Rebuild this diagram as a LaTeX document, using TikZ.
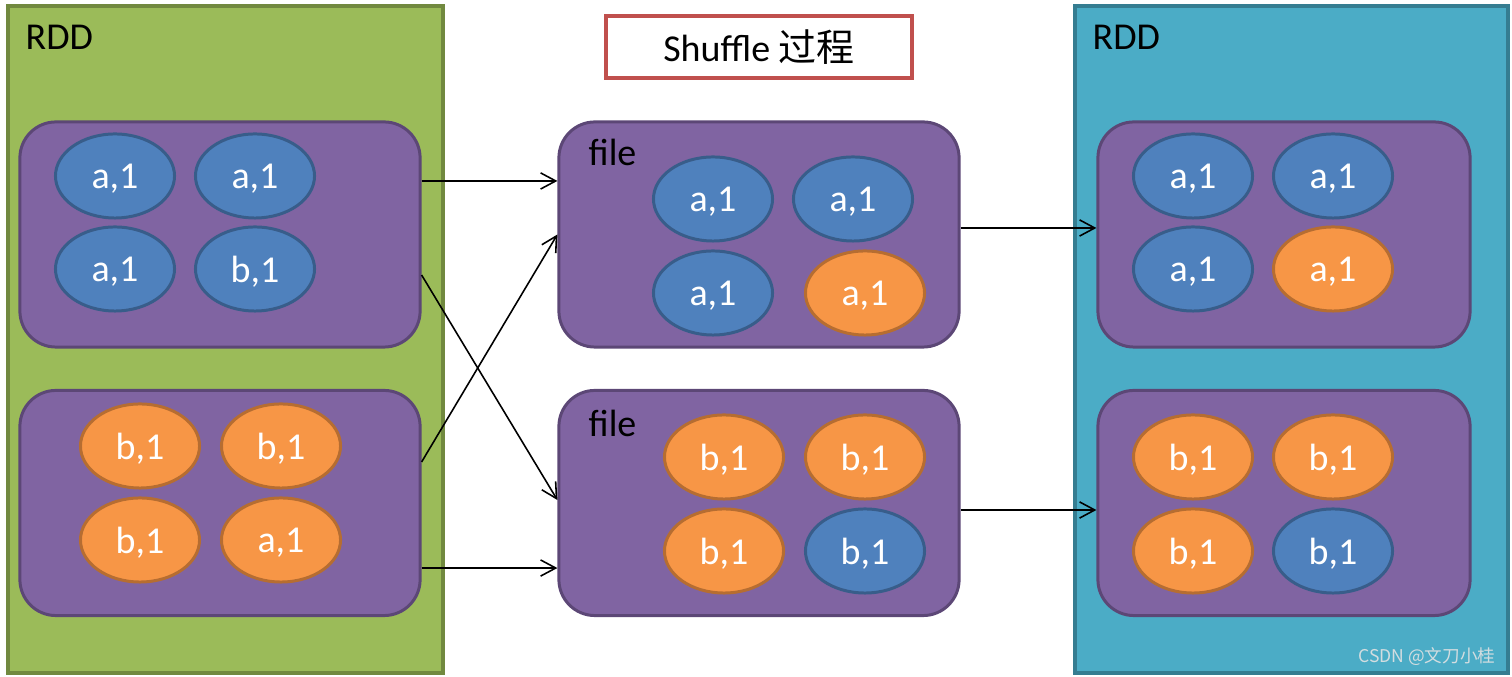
\documentclass[tikz,border=0pt]{standalone}
\usepackage{fontspec}
\setmainfont{Carlito}
\newfontfamily\cjk{Noto Sans CJK SC}
\usetikzlibrary{arrows.meta,shapes.geometric}
\definecolor{greenfill}{HTML}{9BBB59}
\definecolor{greenline}{HTML}{71893F}
\definecolor{tealfill}{HTML}{4BACC6}
\definecolor{tealline}{HTML}{357D91}
\definecolor{partfill}{HTML}{8064A2}
\definecolor{partline}{HTML}{5C4776}
\definecolor{bluefill}{HTML}{4F81BD}
\definecolor{blueline}{HTML}{385D8A}
\definecolor{orangefill}{HTML}{F79646}
\definecolor{orangeline}{HTML}{B66D31}
\definecolor{titleline}{HTML}{C0504D}
\definecolor{marktext}{HTML}{D3DDE0}

\begin{document}
\begin{tikzpicture}[x=0.01cm,y=-0.01cm,
  font=\fontsize{10.8}{13}\selectfont,
  rdd/.style={rectangle,line width=1pt,minimum width=4.35cm,minimum height=6.67cm},
  part/.style={rectangle,draw=partline,fill=partfill,line width=0.85pt,rounded corners=0.36cm,minimum height=2.25cm},
  item/.style={ellipse,line width=0.85pt,minimum width=1.19cm,minimum height=0.84cm,inner sep=0pt,text depth=0pt,text=white},
  bitem/.style={item,draw=blueline,fill=bluefill},
  oitem/.style={item,draw=orangeline,fill=orangefill},
  tag/.style={anchor=west,inner sep=0pt},
  link/.style={-{Straight Barb[length=4.3pt,width=4.6pt]},line width=0.45pt}]

\useasboundingbox (0,0) rectangle (1512,677);

% the two RDDs
\node[rdd,draw=greenline,fill=greenfill] (leftrdd) at (225.5,339.5) {};
\node[tag] (leftname) at (25,37) {RDD};
\node[rdd,draw=tealline,fill=tealfill,minimum width=4.33cm] (rightrdd) at (1291.5,339.5) {};
\node[tag] (rightname) at (1092,37) {RDD};

\node[draw=titleline,line width=1pt,fill=white,minimum width=3.06cm,minimum height=0.62cm] (title) at (759,47) {Shuffle {\cjk 过程}};

% partitions
\node[part,minimum width=4cm] (lt) at (220,234.5) {};
\node[part,minimum width=4cm] (lb) at (220,503) {};
\node[part,minimum width=4cm] (mt) at (759,234.5) {};
\node[part,minimum width=4cm] (mb) at (759,503) {};
\node[part,minimum width=3.72cm] (rt) at (1284,234.5) {};
\node[part,minimum width=3.72cm] (rb) at (1284,503) {};

\node[tag] (mtname) at (588,152) {file};
\node[tag] (mbname) at (588,423) {file};

% records
\node[bitem] (lt1) at (115,176) {a,1};
\node[bitem] (lt2) at (255,176) {a,1};
\node[bitem] (lt3) at (115,269) {a,1};
\node[bitem] (lt4) at (255,269) {b,1};

\node[oitem] (lb1) at (140,446) {b,1};
\node[oitem] (lb2) at (281,446) {b,1};
\node[oitem] (lb3) at (140,540) {b,1};
\node[oitem] (lb4) at (281,540) {a,1};

\node[bitem] (mt1) at (713,199) {a,1};
\node[bitem] (mt2) at (853,199) {a,1};
\node[bitem] (mt3) at (713,293) {a,1};
\node[oitem] (mt4) at (865,293) {a,1};

\node[oitem] (mb1) at (724,457) {b,1};
\node[oitem] (mb2) at (865,457) {b,1};
\node[oitem] (mb3) at (724,551) {b,1};
\node[bitem] (mb4) at (865,551) {b,1};

\node[bitem] (rt1) at (1193,176) {a,1};
\node[bitem] (rt2) at (1333,176) {a,1};
\node[bitem] (rt3) at (1193,269) {a,1};
\node[oitem] (rt4) at (1333,269) {a,1};

\node[oitem] (rb1) at (1193,457) {b,1};
\node[oitem] (rb2) at (1333,457) {b,1};
\node[oitem] (rb3) at (1193,551) {b,1};
\node[bitem] (rb4) at (1333,551) {b,1};

% shuffle write / read
\draw[link] ([yshift=0.535cm]lt.east) -- ([yshift=0.535cm]mt.west);
\draw[link] ([yshift=-0.405cm]lt.east) -- ([yshift=0.03cm]mb.west);
\draw[link] ([yshift=0.41cm]lb.east) -- (mt.west);
\draw[link] ([yshift=-0.65cm]lb.east) -- ([yshift=-0.65cm]mb.west);
\draw[link] ([yshift=0.065cm]mt.east) -- ([yshift=0.065cm]rt.west);
\draw[link] ([yshift=-0.07cm]mb.east) -- ([yshift=-0.07cm]rb.west);

\node[anchor=east,inner sep=0pt,text=marktext,font=\cjk\fontsize{5}{6}\selectfont] (mark) at (1496,657) {CSDN @文刀小桂};

\end{tikzpicture}
\end{document}
